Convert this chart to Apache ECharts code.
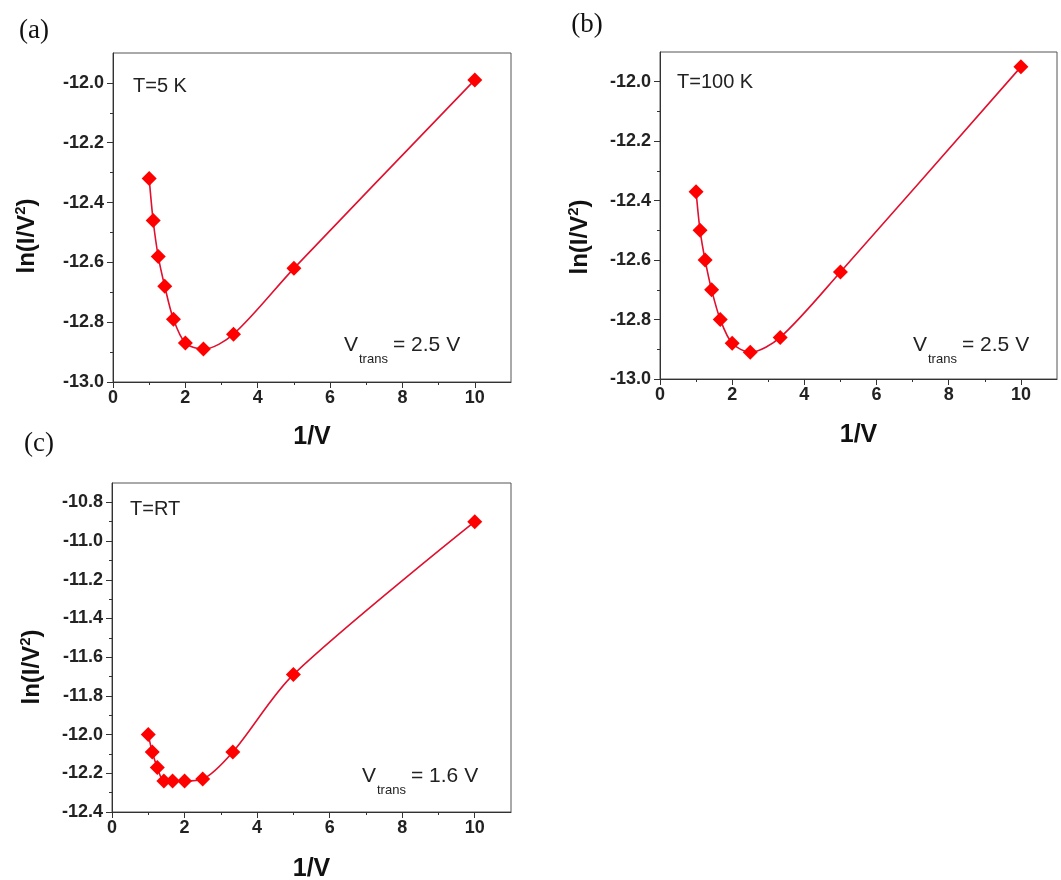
<!DOCTYPE html>
<html><head><meta charset="utf-8">
<script src="https://cdn.jsdelivr.net/npm/echarts@6/dist/echarts.min.js"></script>
<style>html,body{margin:0;padding:0;background:#fff}#c{width:1061px;height:880px}</style>
</head><body><div id="c"></div>
<script>
// ---- data ----
const xInvV = [1.0, 1.11, 1.25, 1.43, 1.67, 2.0, 2.5, 3.33, 5.0, 10.0];
const yA = [-12.32, -12.46, -12.58, -12.68, -12.79, -12.87, -12.89, -12.84, -12.62, -11.99];
const yB = [-12.37, -12.50, -12.60, -12.70, -12.80, -12.88, -12.91, -12.86, -12.64, -11.95];
const yC = [-12.00, -12.09, -12.17, -12.24, -12.24, -12.24, -12.23, -12.09, -11.69, -10.90];
const xTicks = [0, 2, 4, 6, 8, 10];
const xMinor = [1, 3, 5, 7, 9];
const yTicksAB = [-13.0, -12.8, -12.6, -12.4, -12.2, -12.0];
const yMinorAB = [-12.9, -12.7, -12.5, -12.3, -12.1];
const yTicksC = [-12.4, -12.2, -12.0, -11.8, -11.6, -11.4, -11.2, -11.0, -10.8];
const yMinorC = [-12.3, -12.1, -11.9, -11.7, -11.5, -11.3, -11.1, -10.9];
const panelLabels = ['(a)', '(b)', '(c)'];
const tempLabels = ['T=5 K', 'T=100 K', 'T=RT'];
const vtransLabels = ['= 2.5 V', '= 2.5 V', '= 1.6 V'];
const xName = '1/V';

const panels = [
  {grid: {left: 113, top: 53, width: 398, height: 329}, y: yA, ymin: -13.0, ymax: -11.9, yt: yTicksAB, ym: yMinorAB,
   lab: [34, 31], temp: [133, 86], vt: [344, 345], yname: [27, 236], gap: 43},
  {grid: {left: 660, top: 52, width: 397, height: 327}, y: yB, ymin: -13.0, ymax: -11.9, yt: yTicksAB, ym: yMinorAB,
   lab: [587, 25], temp: [677, 82], vt: [913, 345], yname: [580, 237], gap: 44},
  {grid: {left: 112, top: 483, width: 399, height: 329}, y: yC, ymin: -12.4, ymax: -10.7, yt: yTicksC, ym: yMinorC,
   lab: [39, 444], temp: [130, 509], vt: [362, 776], yname: [32, 667], gap: 45}
];

const AX = '#333';
const FONT = 'Liberation Sans, Arial, sans-serif';
const grids = [], xAxes = [], yAxes = [], series = [], graphics = [];

panels.forEach((p, i) => {
  grids.push(Object.assign({show: true, borderColor: '#555', borderWidth: 1, backgroundColor: 'transparent', outerBoundsMode: 'none'}, p.grid));
  xAxes.push({
    type: 'value', gridIndex: i, min: 0, max: 11, position: 'bottom',
    name: xName, nameLocation: 'middle', nameGap: p.gap,
    nameTextStyle: {fontFamily: FONT, fontWeight: 'bold', fontSize: 25, color: '#111'},
    axisLine: {show: true, onZero: false, lineStyle: {color: AX, width: 1}},
    axisTick: {show: true, inside: false, length: 6, customValues: xTicks, lineStyle: {color: AX}},
    axisLabel: {customValues: xTicks, margin: 7, fontFamily: FONT, fontWeight: 'bold', fontSize: 18, color: '#222'},
    splitLine: {show: false}
  });
  xAxes.push({
    type: 'value', gridIndex: i, min: 0, max: 11, position: 'bottom', offset: 0,
    axisLine: {show: false, onZero: false},
    axisTick: {show: true, inside: false, length: 3, customValues: xMinor, lineStyle: {color: AX}},
    axisLabel: {show: false}, splitLine: {show: false}
  });
  yAxes.push({
    type: 'value', gridIndex: i, min: p.ymin, max: p.ymax, position: 'left',
    axisLine: {show: true, onZero: false, lineStyle: {color: AX, width: 1}},
    axisTick: {show: true, inside: false, length: 6, customValues: p.yt, lineStyle: {color: AX}},
    axisLabel: {customValues: p.yt, margin: 9, fontFamily: FONT, fontWeight: 'bold', fontSize: 18, color: '#222',
      formatter: v => Number(v).toFixed(1)},
    splitLine: {show: false}
  });
  yAxes.push({
    type: 'value', gridIndex: i, min: p.ymin, max: p.ymax, position: 'left', offset: 0,
    axisLine: {show: false, onZero: false},
    axisTick: {show: true, inside: false, length: 3, customValues: p.ym, lineStyle: {color: AX}},
    axisLabel: {show: false}, splitLine: {show: false}
  });
  series.push({
    type: 'line', xAxisIndex: 2 * i, yAxisIndex: 2 * i,
    data: xInvV.map((x, k) => [x, p.y[k]]),
    smooth: 0.3, symbol: 'diamond', symbolSize: 15, showSymbol: true,
    lineStyle: {color: '#e0102e', width: 1.6},
    itemStyle: {color: '#ff0000'},
    emphasis: {disabled: true}, z: 3
  });
  graphics.push({type: 'text', x: p.lab[0], y: p.lab[1],
    style: {text: panelLabels[i], font: '27px "Liberation Serif", "Times New Roman", serif', fill: '#111',
      align: 'center', verticalAlign: 'middle', textAlign: 'center', textVerticalAlign: 'middle'}});
  graphics.push({type: 'text', x: p.temp[0], y: p.temp[1],
    style: {text: tempLabels[i], font: '20px ' + FONT, fill: '#222',
      align: 'left', verticalAlign: 'middle', textAlign: 'left', textVerticalAlign: 'middle'}});
  graphics.push({type: 'text', x: p.vt[0], y: p.vt[1],
    style: {text: 'V', font: '21px ' + FONT, fill: '#222',
      align: 'left', verticalAlign: 'middle', textAlign: 'left', textVerticalAlign: 'middle'}});
  graphics.push({type: 'text', x: p.vt[0] + 15, y: p.vt[1] + 14,
    style: {text: 'trans', font: '13px ' + FONT, fill: '#222',
      align: 'left', verticalAlign: 'middle', textAlign: 'left', textVerticalAlign: 'middle'}});
  graphics.push({type: 'text', x: p.vt[0] + 49, y: p.vt[1],
    style: {text: vtransLabels[i], font: '21px ' + FONT, fill: '#222',
      align: 'left', verticalAlign: 'middle', textAlign: 'left', textVerticalAlign: 'middle'}});
  graphics.push({type: 'text', x: p.yname[0], y: p.yname[1], rotation: Math.PI / 2,
    style: {text: '{a|ln(I/V}{s|2}{a|)}', fill: '#111',
      align: 'center', verticalAlign: 'middle', textAlign: 'center', textVerticalAlign: 'middle',
      rich: {
        a: {fontFamily: FONT, fontWeight: 'bold', fontSize: 24, lineHeight: 28, fill: '#111', color: '#111'},
        s: {fontFamily: FONT, fontWeight: 'bold', fontSize: 15, lineHeight: 15, verticalAlign: 'top', fill: '#111', color: '#111'}
      }}});
});

const chart = echarts.init(document.getElementById('c'), null, {renderer: 'canvas'});
chart.setOption({
  animation: false,
  backgroundColor: '#fff',
  grid: grids, xAxis: xAxes, yAxis: yAxes, series: series,
  graphic: graphics
});
</script>
</body></html>
